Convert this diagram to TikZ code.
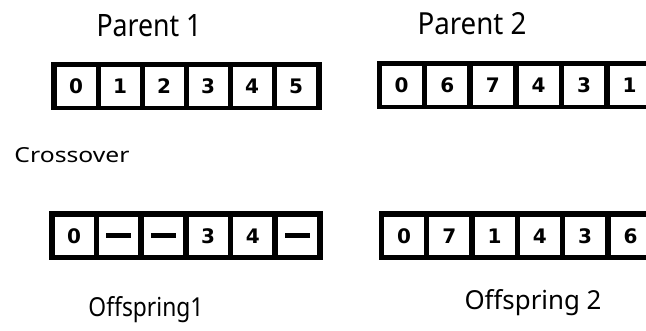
\documentclass[tikz,border=0pt]{standalone}
\usepackage{fontspec}
\usepackage{graphicx}
\setmainfont{Noto Sans}
\newfontfamily\digitfont{DejaVu Sans}
\tikzset{
  cell/.style={fill=white, inner sep=0pt, minimum width=39pt, minimum height=39pt,
    font=\digitfont\bfseries\fontsize{20}{23}\selectfont},
  widecell/.style={cell, minimum width=40pt},
  hand/.style={anchor=base, inner sep=0pt, font=\fontsize{24}{28}\selectfont},
}
\newcommand{\gap}{\rule{25pt}{5pt}}
\begin{document}
\begin{tikzpicture}[x=1pt,y=-1pt]
\useasboundingbox (0,0) rectangle (646,331);
\clip (0,0) rectangle (646,331);
% labels
\node[hand] (p1lab) at (149,37) {\resizebox{105pt}{22pt}{Parent 1}};
\node[hand] (p2lab) at (472,35) {\resizebox{109pt}{22pt}{Parent 2}};
\node[hand] (xlab) at (72,163) {\resizebox{115pt}{15pt}{Crossover}};
\node[hand] (o1lab) at (146,317) {\resizebox{115pt}{20pt}{Offspring1}};
\node[hand] (o2lab) at (533,310) {\resizebox{137pt}{20pt}{Offspring 2}};
% Parent 1
\fill[black] (51,62) rectangle (322,110);
\foreach \v [count=\i from 0] in {0,1,2,3,4,5}
  \node[cell] (pa\i) at (76+44*\i,86.3) {\raisebox{-1pt}{\v}};
% Parent 2
\fill[black] (377,61) rectangle (660,109);
\foreach \v [count=\i from 0] in {0,6,7,4,3,1}
  \node[widecell] (pb\i) at (401.7+45.6*\i,85.5) {\raisebox{-1pt}{\v}};
% Offspring 1
\fill[black] (49,211) rectangle (323,260);
\foreach \v [count=\i from 0] in {0,\gap,\gap,3,4,\gap}
  \node[cell, minimum height=38.5pt] (oa\i) at (74+44.7*\i,235.8) {\v};
% Offspring 2
\fill[black] (379,211) rectangle (660,260);
\foreach \v [count=\i from 0] in {0,7,1,4,3,6}
  \node[widecell, minimum height=38.5pt] (ob\i) at (404+45.3*\i,235.8) {\v};
\end{tikzpicture}
\end{document}
